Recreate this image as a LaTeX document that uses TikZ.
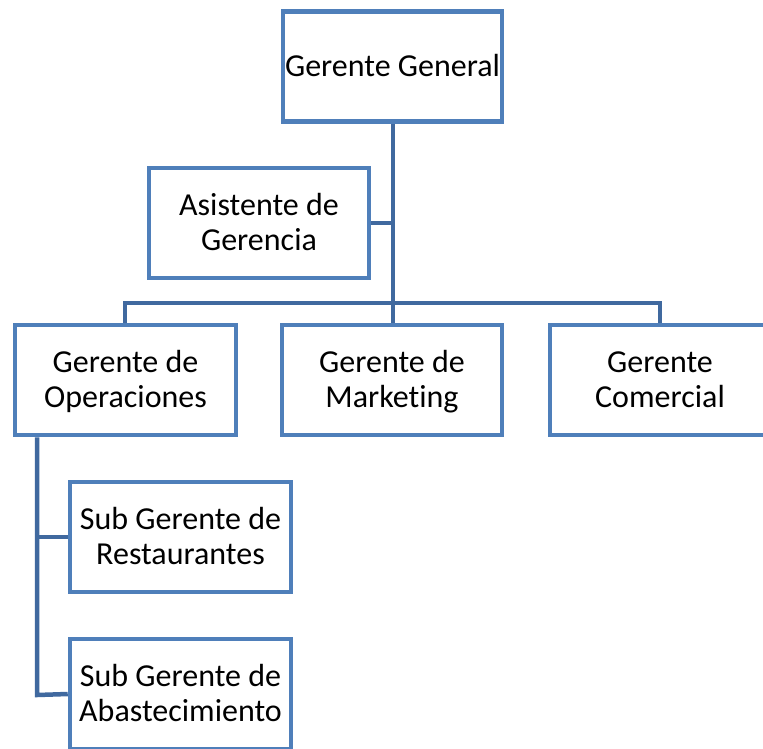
\documentclass[tikz,border=0pt]{standalone}
\usepackage{fontspec}
\setmainfont{Carlito}[Ligatures=NoCommon]
\definecolor{boxblue}{HTML}{4F7FBA}
\definecolor{linkblue}{HTML}{40699F}
\pgfdeclarelayer{links}
\pgfsetlayers{links,main}
% box label: centred lines, set a little low in the box
\newcommand\boxtext[1]{\raisebox{-3pt}[\height][\depth]{\begin{tabular}{@{}c@{}}#1\end{tabular}}}
\begin{document}
\begin{tikzpicture}[x=1pt,y=-1pt,
  orgbox/.style={draw=boxblue, line width=4.5pt, fill=white, rectangle,
    minimum width=220pt, minimum height=110pt, inner sep=0pt,
    font=\fontsize{32}{35}\selectfont},
  link/.style={draw=linkblue, line width=4.5pt}]
\useasboundingbox (0,0) rectangle (763,748);
\clip (0,0) rectangle (763,748);
% boxes
\node[orgbox, minimum width=219pt] (gg) at (392.5,66.5) {\boxtext{Gerente General}};
\node[orgbox] (asis) at (259,223) {\boxtext{Asistente de\\Gerencia}};
\node[orgbox, minimum width=221pt] (ops) at (125.5,380) {\boxtext{Gerente de\\Operaciones}};
\node[orgbox] (mkt) at (392,380) {\boxtext{Gerente de\\Marketing}};
\node[orgbox] (com) at (660,380) {\boxtext{Gerente\\Comercial}};
\node[orgbox, minimum width=221pt] (rest) at (180.5,537) {\boxtext{Sub Gerente de\\Restaurantes}};
\node[orgbox, minimum width=221pt] (abas) at (180.5,694) {\boxtext{Sub Gerente de\\Abastecimiento}};
% tree links, under the boxes
\coordinate (bar) at (393,303);
\coordinate (barL) at (125,303);
\coordinate (barR) at (660,303);
\coordinate (ajA) at (393,223);
\coordinate (opsDrop) at (37,435);
\coordinate (subA) at (37,537);
\coordinate (subB) at (37,695);
\begin{pgfonlayer}{links}
\path[link] (gg.south -| bar) -- (bar);
\path[link] (asis.east) -- (ajA);
\path[link, line cap=rect] (barL) -- (barR);
\path[link] (barL) -- (barL |- ops.north);
\path[link] (bar) -- (bar |- mkt.north);
\path[link] (barR) -- (barR |- com.north);
\path[link, line join=miter] (opsDrop |- ops.south) -- (subB) -- (abas.west);
\path[link] (subA) -- (rest.west);
\end{pgfonlayer}
\end{tikzpicture}
\end{document}
